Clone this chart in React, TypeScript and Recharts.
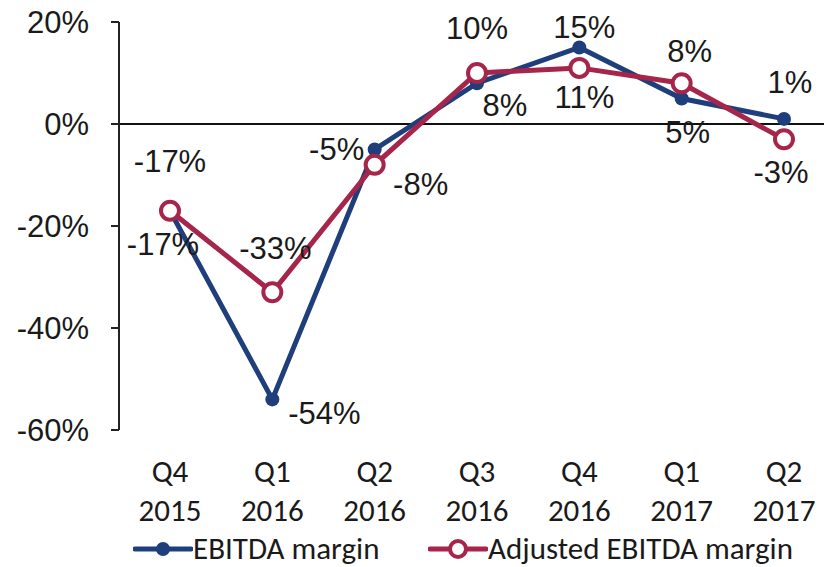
import React from "react";
import {
  LineChart,
  Line,
  XAxis,
  YAxis,
  ReferenceLine,
  LabelList,
  Legend,
} from "recharts";

const quarters = ["Q4", "Q1", "Q2", "Q3", "Q4", "Q1", "Q2"];
const years = ["2015", "2016", "2016", "2016", "2016", "2017", "2017"];
const ebitdaMargin = [-17, -54, -5, 8, 15, 5, 1];
const adjustedMargin = [-17, -33, -8, 10, 11, 8, -3];
const yTicks = [-60, -40, -20, 0, 20];

// label placement around each point (dx, dy from the point)
const ebitdaNudge = [
  [-7, 34],
  [52, 14],
  [-38, 0],
  [28, 22],
  [5, -20],
  [6, 34],
  [6, -36],
];
const adjustedNudge = [
  [0, -49],
  [3, -44],
  [46, 20],
  [0, -45],
  [5, 30],
  [8, -32],
  [-3, 33],
];

const BLUE = "#1f3e7c";
const RED = "#a5264a";
const ARIAL = "'Liberation Sans', Arial, sans-serif";
const NARROW = "Carlito, 'DejaVu Sans Condensed', 'Liberation Sans Narrow', sans-serif";

const data = quarters.map((q, i) => ({
  name: `${q} ${years[i]}`,
  ebitda: ebitdaMargin[i],
  adjusted: adjustedMargin[i],
}));

function makeLabel(nudge: number[][]) {
  return (props: any) => {
    const { x, y, value, index } = props;
    const [dx, dy] = nudge[index] || [0, 0];
    return (
      <text
        x={x + dx}
        y={y + dy}
        textAnchor="middle"
        dominantBaseline="central"
        fontFamily={ARIAL}
        fontSize={31}
        fill="#1a1a1a"
      >
        {`${value}%`}
      </text>
    );
  };
}

function QuarterTick(props: any) {
  const { x, y, payload } = props;
  const [q, yr] = String(payload.value).split(" ");
  return (
    <g>
      <text
        x={x}
        y={y + 41}
        textAnchor="middle"
        dominantBaseline="central"
        fontFamily={NARROW}
        fontSize={31}
        fill="#1a1a1a"
      >
        {q}
      </text>
      <text
        x={x}
        y={y + 80}
        textAnchor="middle"
        dominantBaseline="central"
        fontFamily={NARROW}
        fontSize={31}
        fill="#1a1a1a"
      >
        {yr}
      </text>
    </g>
  );
}

function LegendBox() {
  const item = (left: number, hollow: boolean, color: string, label: string) => (
    <div
      style={{
        position: "absolute",
        left,
        top: 0,
        height: 37,
        display: "flex",
        alignItems: "center",
      }}
    >
      <svg width={60} height={24}>
        <line x1={2} y1={12} x2={58} y2={12} stroke={color} strokeWidth={5} strokeLinecap="round" />
        {hollow ? (
          <circle cx={30} cy={12} r={8} fill="#fff" stroke={color} strokeWidth={4} />
        ) : (
          <circle cx={30} cy={12} r={7} fill={color} />
        )}
      </svg>
      <span style={{ fontFamily: NARROW, fontSize: 31, color: "#1a1a1a", lineHeight: 1 }}>
        {label}
      </span>
    </div>
  );
  return (
    <div style={{ position: "relative", width: 824, height: 37 }}>
      {item(133, false, BLUE, "EBITDA margin")}
      {item(428, true, RED, "Adjusted EBITDA margin")}
    </div>
  );
}

export default function App() {
  return (
    <div style={{ position: "absolute", left: 0, top: 0, background: "#fff" }}>
      <LineChart
        width={824}
        height={567}
        data={data}
        margin={{ top: 22, right: 0, bottom: 0, left: 0 }}
      >
        <XAxis
          dataKey="name"
          axisLine={false}
          tickLine={false}
          tickSize={0}
          tickMargin={0}
          height={100}
          padding={{ left: 51, right: 40 }}
          interval={0}
          tick={<QuarterTick />}
        />
        <YAxis
          domain={[-60, 20]}
          ticks={yTicks}
          width={119}
          tickSize={8}
          tickMargin={22}
          tickFormatter={(v) => `${v}%`}
          axisLine={{ stroke: "#222", strokeWidth: 2 }}
          tickLine={{ stroke: "#222", strokeWidth: 2 }}
          tick={{ fontFamily: ARIAL, fontSize: 31, fill: "#1a1a1a" }}
        />
        <ReferenceLine y={0} stroke="#111" strokeWidth={2} />
        <Legend
          verticalAlign="bottom"
          height={37}
          content={() => <LegendBox />}
        />
        <Line
          dataKey="ebitda"
          name="EBITDA margin"
          stroke={BLUE}
          strokeWidth={5}
          dot={{ r: 7, fill: BLUE, stroke: BLUE, strokeWidth: 0 }}
          isAnimationActive={false}
        >
          <LabelList dataKey="ebitda" content={makeLabel(ebitdaNudge)} />
        </Line>
        <Line
          dataKey="adjusted"
          name="Adjusted EBITDA margin"
          stroke={RED}
          strokeWidth={5}
          dot={{ r: 9, fill: "#fff", stroke: RED, strokeWidth: 4 }}
          isAnimationActive={false}
        >
          <LabelList dataKey="adjusted" content={makeLabel(adjustedNudge)} />
        </Line>
      </LineChart>
    </div>
  );
}
